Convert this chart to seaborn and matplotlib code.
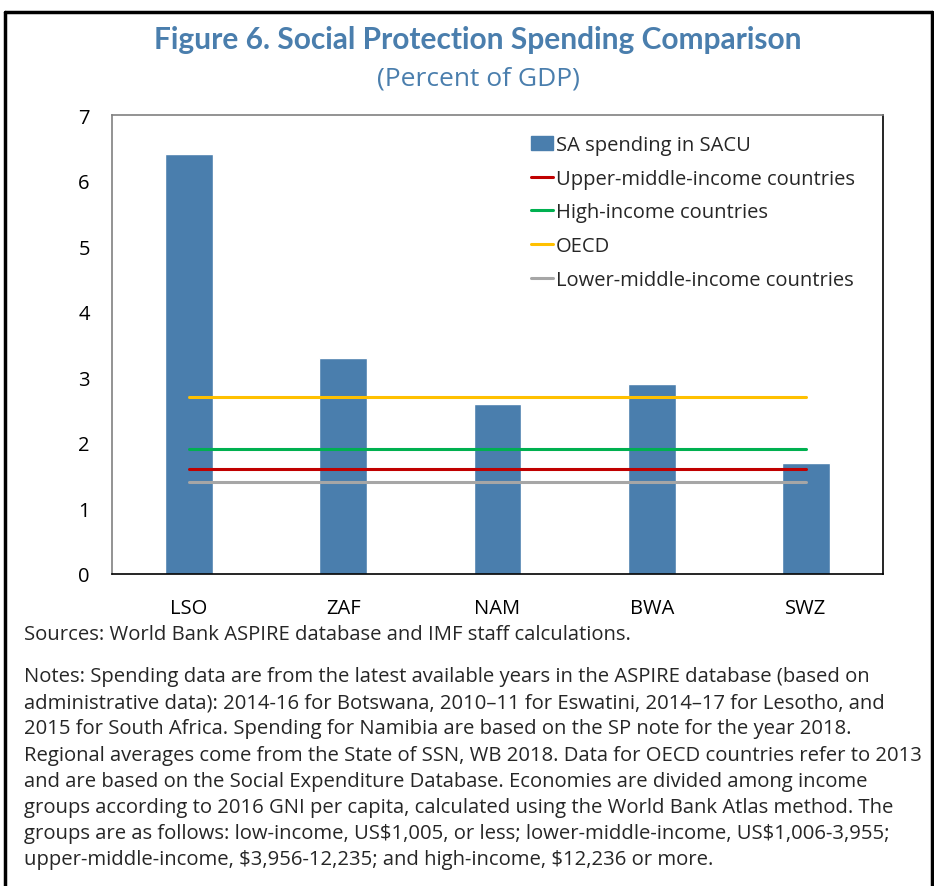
import numpy as np
import pandas as pd
import matplotlib
matplotlib.use("Agg")
import matplotlib.pyplot as plt
import seaborn as sns
from matplotlib.lines import Line2D
from matplotlib.patches import Patch

countries = ["LSO", "ZAF", "NAM", "BWA", "SWZ"]
sa_spending = [6.4, 3.3, 2.6, 2.9, 1.7]

group_names = ["Upper-middle-income countries", "High-income countries",
               "OECD", "Lower-middle-income countries"]
group_values = [1.6, 1.9, 2.7, 1.4]
group_colors = ["#C00000", "#00B050", "#FFC000", "#A6A6A6"]

bar_color = "#4A7EAD"
title_color = "#4A7EAD"

notes_lines = [
    "Notes: Spending data are from the latest available years in the ASPIRE database (based on",
    "administrative data): 2014-16 for Botswana, 2010\u201311 for Eswatini, 2014\u201317 for Lesotho, and",
    "2015 for South Africa. Spending for Namibia are based on the SP note for the year 2018.",
    "Regional averages come from the State of SSN, WB 2018. Data for OECD countries refer to 2013",
    "and are based on the Social Expenditure Database. Economies are divided among income",
    "groups according to 2016 GNI per capita, calculated using the World Bank Atlas method. The",
    "groups are as follows: low-income, US\\$1,005, or less; lower-middle-income, US\\$1,006-3,955;",
    "upper-middle-income, \\$3,956-12,235; and high-income, \\$12,236 or more.",
]

sns.set_theme(style="white")
plt.rcParams["font.family"] = ["Open Sans", "DejaVu Sans"]

df = pd.DataFrame({"country": countries, "value": sa_spending})

fig = plt.figure(figsize=(9.34, 8.87), dpi=100)
W, H = 934, 887
ax = fig.add_axes([112 / W, 1 - 575 / H, (883 - 112) / W, (575 - 116) / H])

sns.barplot(data=df, x="country", y="value", color=bar_color, width=0.31,
            saturation=1, ax=ax)
for name, val, col in zip(group_names, group_values, group_colors):
    ax.plot([0, len(countries) - 1], [val, val], color=col, lw=2.2)

ax.set_xlim(-0.5, len(countries) - 0.5)
ax.set_ylim(0, 7)
ax.set_yticks(range(0, 8))
ax.set_xlabel("")
ax.set_ylabel("")
ax.tick_params(axis="both", length=0, labelsize=14.5, colors="black")
ax.tick_params(axis="y", pad=16)
ax.tick_params(axis="x", pad=17)
for side in ["left", "top"]:
    ax.spines[side].set_color("#808080")
for side in ["right", "bottom"]:
    ax.spines[side].set_color("black")
for s in ax.spines.values():
    s.set_linewidth(1.2)

handles = [Patch(color=bar_color, label="SA spending in SACU")]
handles += [Line2D([0], [0], color=c, lw=2.2, label=n)
            for n, c in zip(group_names, group_colors)]
ax.legend(handles=handles, loc="upper left", bbox_to_anchor=(0.52, 0.996),
          frameon=False, fontsize=14.5, handlelength=1.1, handletextpad=0.15,
          labelspacing=0.68)

fig.text(478 / W, 1 - 40 / H, "Figure 6. Social Protection Spending Comparison",
         ha="center", va="center", fontsize=21.5, fontweight="bold", color=title_color,
         family=["Lato", "DejaVu Sans"])
fig.text(478 / W, 1 - 79 / H, "(Percent of GDP)", ha="center", va="center",
         fontsize=19, color=title_color)

fig.text(24 / W, 1 - 635 / H, "Sources: World Bank ASPIRE database and IMF staff calculations.",
         ha="left", va="center", fontsize=14.6)
for i, line in enumerate(notes_lines):
    fig.text(24 / W, 1 - (677 + 26.2 * i) / H, line, ha="left", va="center", fontsize=14.6)

# frame around the figure (left, top, right)
fig.add_artist(Line2D([5 / W, 5 / W], [0, 1 - 13 / H], color="black", lw=2.5,
                      transform=fig.transFigure))
fig.add_artist(Line2D([5 / W, 932 / W], [1 - 13 / H, 1 - 13 / H], color="black", lw=2.5,
                      transform=fig.transFigure))
fig.add_artist(Line2D([932 / W, 932 / W], [0, 1 - 13 / H], color="black", lw=2.5,
                      transform=fig.transFigure))

fig.savefig("out.png", dpi=100)
